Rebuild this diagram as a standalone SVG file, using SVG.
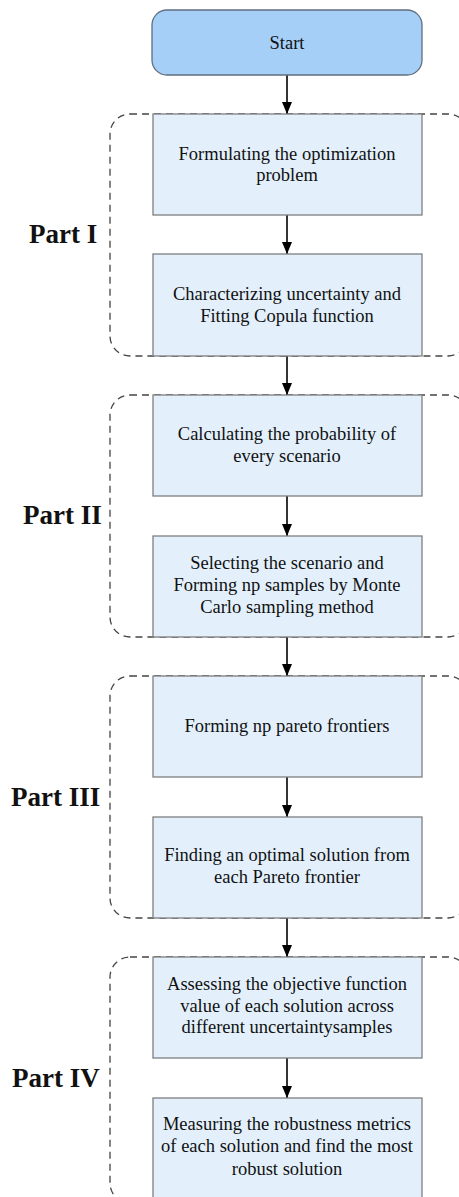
<svg xmlns="http://www.w3.org/2000/svg" width="459" height="1197" viewBox="0 0 459 1197">
<defs>
<marker id="ah" markerWidth="12" markerHeight="10" refX="12" refY="5" orient="auto" markerUnits="userSpaceOnUse" viewBox="0 0 12 10">
<path d="M0,0 L12,5 L0,10 Z" fill="#000"/>
</marker>
</defs>
<style>
.box{fill:#e3f0fc;stroke:#7f7f7f;stroke-width:1.3}
.start{fill:#a6cff8;stroke:#5f6f80;stroke-width:1.3}
.grp{fill:none;stroke:#444;stroke-width:1.3;stroke-dasharray:7,5}
.t{font-family:"Liberation Serif","Times New Roman",serif;font-size:18.5px;fill:#111;text-anchor:middle}
.lbl{font-family:"Liberation Serif","Times New Roman",serif;font-size:27px;font-weight:bold;fill:#111}
.c{stroke:#000;stroke-width:1.6;fill:none}
</style>
<rect width="459" height="1197" fill="#fff"/>
<g id="groups">
<rect class="grp" x="110" y="114" width="358" height="242" rx="20"/>
<rect class="grp" x="110" y="395" width="358" height="242" rx="20"/>
<rect class="grp" x="110" y="676" width="358" height="242" rx="20"/>
<rect class="grp" x="110" y="957" width="358" height="246" rx="20"/>
</g>
<g id="labels">
<text class="lbl" x="29" y="243">Part I</text>
<text class="lbl" x="23" y="524">Part II</text>
<text class="lbl" x="11" y="806">Part III</text>
<text class="lbl" x="12" y="1087">Part IV</text>
</g>
<g id="connectors">
<line class="c" x1="287" y1="75" x2="287" y2="114" marker-end="url(#ah)"/>
<line class="c" x1="287" y1="215" x2="287" y2="254" marker-end="url(#ah)"/>
<line class="c" x1="287" y1="356" x2="287" y2="395" marker-end="url(#ah)"/>
<line class="c" x1="287" y1="496" x2="287" y2="536" marker-end="url(#ah)"/>
<line class="c" x1="287" y1="637" x2="287" y2="676" marker-end="url(#ah)"/>
<line class="c" x1="287" y1="777" x2="287" y2="817" marker-end="url(#ah)"/>
<line class="c" x1="287" y1="918" x2="287" y2="957" marker-end="url(#ah)"/>
<line class="c" x1="287" y1="1058" x2="287" y2="1098" marker-end="url(#ah)"/>
</g>
<g id="start">
<rect class="start" x="152" y="10" width="270" height="65" rx="15"/>
<text class="t" x="287" y="49">Start</text>
</g>
<g id="n1">
<rect class="box" x="153" y="114" width="269" height="101"/>
<text class="t" x="287" y="160">Formulating the optimization</text>
<text class="t" x="287" y="181">problem</text>
</g>
<g id="n2">
<rect class="box" x="153" y="254" width="269" height="102"/>
<text class="t" x="287" y="300">Characterizing uncertainty and</text>
<text class="t" x="287" y="322">Fitting Copula function</text>
</g>
<g id="n3">
<rect class="box" x="153" y="395" width="269" height="101"/>
<text class="t" x="287" y="440">Calculating the probability of</text>
<text class="t" x="287" y="462">every scenario</text>
</g>
<g id="n4">
<rect class="box" x="153" y="536" width="269" height="101"/>
<text class="t" x="287" y="569">Selecting the scenario and</text>
<text class="t" x="287" y="591">Forming np samples by Monte</text>
<text class="t" x="287" y="613">Carlo sampling method</text>
</g>
<g id="n5">
<rect class="box" x="153" y="676" width="269" height="101"/>
<text class="t" x="287" y="732">Forming np pareto frontiers</text>
</g>
<g id="n6">
<rect class="box" x="153" y="817" width="269" height="101"/>
<text class="t" x="287" y="861">Finding an optimal solution from</text>
<text class="t" x="287" y="883">each Pareto frontier</text>
</g>
<g id="n7">
<rect class="box" x="153" y="957" width="269" height="101"/>
<text class="t" x="287" y="990">Assessing the objective function</text>
<text class="t" x="287" y="1012">value of each solution across</text>
<text class="t" x="287" y="1033">different uncertaintysamples</text>
</g>
<g id="n8">
<rect class="box" x="153" y="1098" width="269" height="102"/>
<text class="t" x="287" y="1130">Measuring the robustness metrics</text>
<text class="t" x="287" y="1152">of each solution and find the most</text>
<text class="t" x="287" y="1175">robust solution</text>
</g>
</svg>
